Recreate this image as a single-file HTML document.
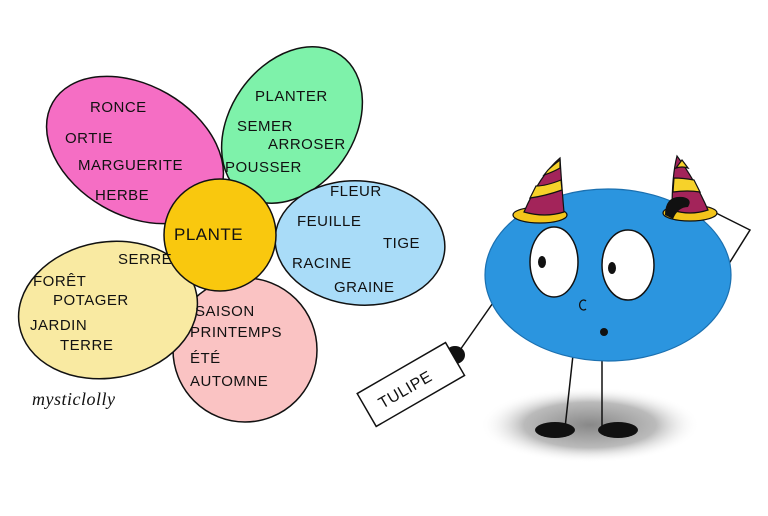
<!DOCTYPE html>
<html><head><meta charset="utf-8"><style>
body{margin:0;background:#fff}
svg text{font-family:"Liberation Sans",sans-serif;font-size:15px;fill:#111;letter-spacing:0.5px}
</style></head><body>
<svg width="768" height="511" viewBox="0 0 768 511" xmlns="http://www.w3.org/2000/svg">
<defs><radialGradient id="sh"><stop offset="0" stop-color="#888"/><stop offset="0.6" stop-color="#bbb"/><stop offset="1" stop-color="#fff" stop-opacity="0"/></radialGradient></defs>
<g stroke="#111" stroke-width="1.5">
<ellipse cx="135" cy="150" rx="95" ry="65" transform="rotate(30 135 150)" fill="#f56ec4"/>
<ellipse cx="292" cy="125" rx="85" ry="62" transform="rotate(-55 292 125)" fill="#7ef2aa"/>
<ellipse cx="360" cy="243" rx="85" ry="62" transform="rotate(5 360 243)" fill="#a9dcf8"/>
<ellipse cx="245" cy="350" rx="72" ry="72" fill="#fac3c3"/>
<ellipse cx="108" cy="310" rx="90" ry="68" transform="rotate(-10 108 310)" fill="#f9eaa2"/>
<circle cx="220" cy="235" r="56" fill="#f9c80e"/>
</g>
<text x="90" y="112">RONCE</text><text x="65" y="143">ORTIE</text><text x="78" y="170">MARGUERITE</text><text x="95" y="200">HERBE</text>
<text x="255" y="101">PLANTER</text><text x="237" y="131">SEMER</text><text x="268" y="149">ARROSER</text><text x="225" y="172">POUSSER</text>
<text x="330" y="196">FLEUR</text><text x="297" y="226">FEUILLE</text><text x="383" y="248">TIGE</text><text x="292" y="268">RACINE</text><text x="334" y="292">GRAINE</text>
<text x="174" y="240" style="font-size:17px">PLANTE</text>
<text x="118" y="264">SERRE</text><text x="33" y="286">FORÊT</text><text x="53" y="305">POTAGER</text><text x="30" y="330">JARDIN</text><text x="60" y="350">TERRE</text>
<text x="195" y="316">SAISON</text><text x="190" y="337">PRINTEMPS</text><text x="190" y="363">ÉTÉ</text><text x="190" y="386">AUTOMNE</text>
<text x="32" y="405" style="font-family:'Liberation Serif',serif;font-style:italic;font-size:18px">mysticlolly</text>
<ellipse cx="590" cy="425" rx="110" ry="38" fill="url(#sh)"/>
<g stroke="#111" stroke-width="1.5" fill="none">
<path d="M573 355 L565 428 M602 355 L602 428"/>
<path d="M495 300 L460 350 M700 205 L750 230 L725 270"/>
</g>
<ellipse cx="555" cy="430" rx="20" ry="8" fill="#111"/>
<ellipse cx="618" cy="430" rx="20" ry="8" fill="#111"/>
<ellipse cx="608" cy="275" rx="123" ry="86" fill="#2b95df" stroke="#1b70b0" stroke-width="1.2"/>
<ellipse cx="554" cy="262" rx="24" ry="35" fill="#fff" stroke="#111" stroke-width="1.5"/>
<ellipse cx="628" cy="265" rx="26" ry="35" fill="#fff" stroke="#111" stroke-width="1.5"/>
<ellipse cx="542" cy="262" rx="4" ry="6" fill="#111"/><ellipse cx="612" cy="268" rx="4" ry="6" fill="#111"/>
<path d="M586 301 a4 5 0 1 0 0 8" stroke="#111" fill="none" stroke-width="1.3"/>
<circle cx="604" cy="332" r="4" fill="#111"/>
<g stroke="#111" stroke-width="1.2">
<ellipse cx="540" cy="215" rx="27" ry="8" fill="#f3c51b"/>
<path d="M524 212 Q540 175 560 158 Q562 190 564 212 Q545 218 524 212 Z" fill="#a3245a"/>
<path d="M530 198 Q545 196 562 190 L561 180 Q546 186 536 186 Z" fill="#f6d22a"/>
<path d="M544 175 Q553 172 560 168 L560 160 Q552 166 548 170 Z" fill="#f6d22a"/>
<ellipse cx="690" cy="213" rx="27" ry="8" fill="#f3c51b"/>
<path d="M672 210 Q672 175 677 156 Q695 180 708 210 Q690 216 672 210 Z" fill="#a3245a"/>
<path d="M673 192 Q688 190 700 192 L694 180 Q683 178 674 178 Z" fill="#f6d22a"/>
<path d="M676 168 Q682 166 688 168 L682 160 Z" fill="#f6d22a"/>
</g>
<path d="M665 215 q0 -20 18 -18 q10 2 5 10 q-10 0 -15 12 z" fill="#111"/>
<ellipse cx="455" cy="355" rx="10" ry="9" fill="#111"/>
<g transform="rotate(-30 410 385)">
<rect x="360" y="366" width="102" height="38" fill="#fff" stroke="#111" stroke-width="1.5"/>
<text x="374" y="392" style="font-size:16px">TULIPE</text>
</g>
</svg>
</body></html>
